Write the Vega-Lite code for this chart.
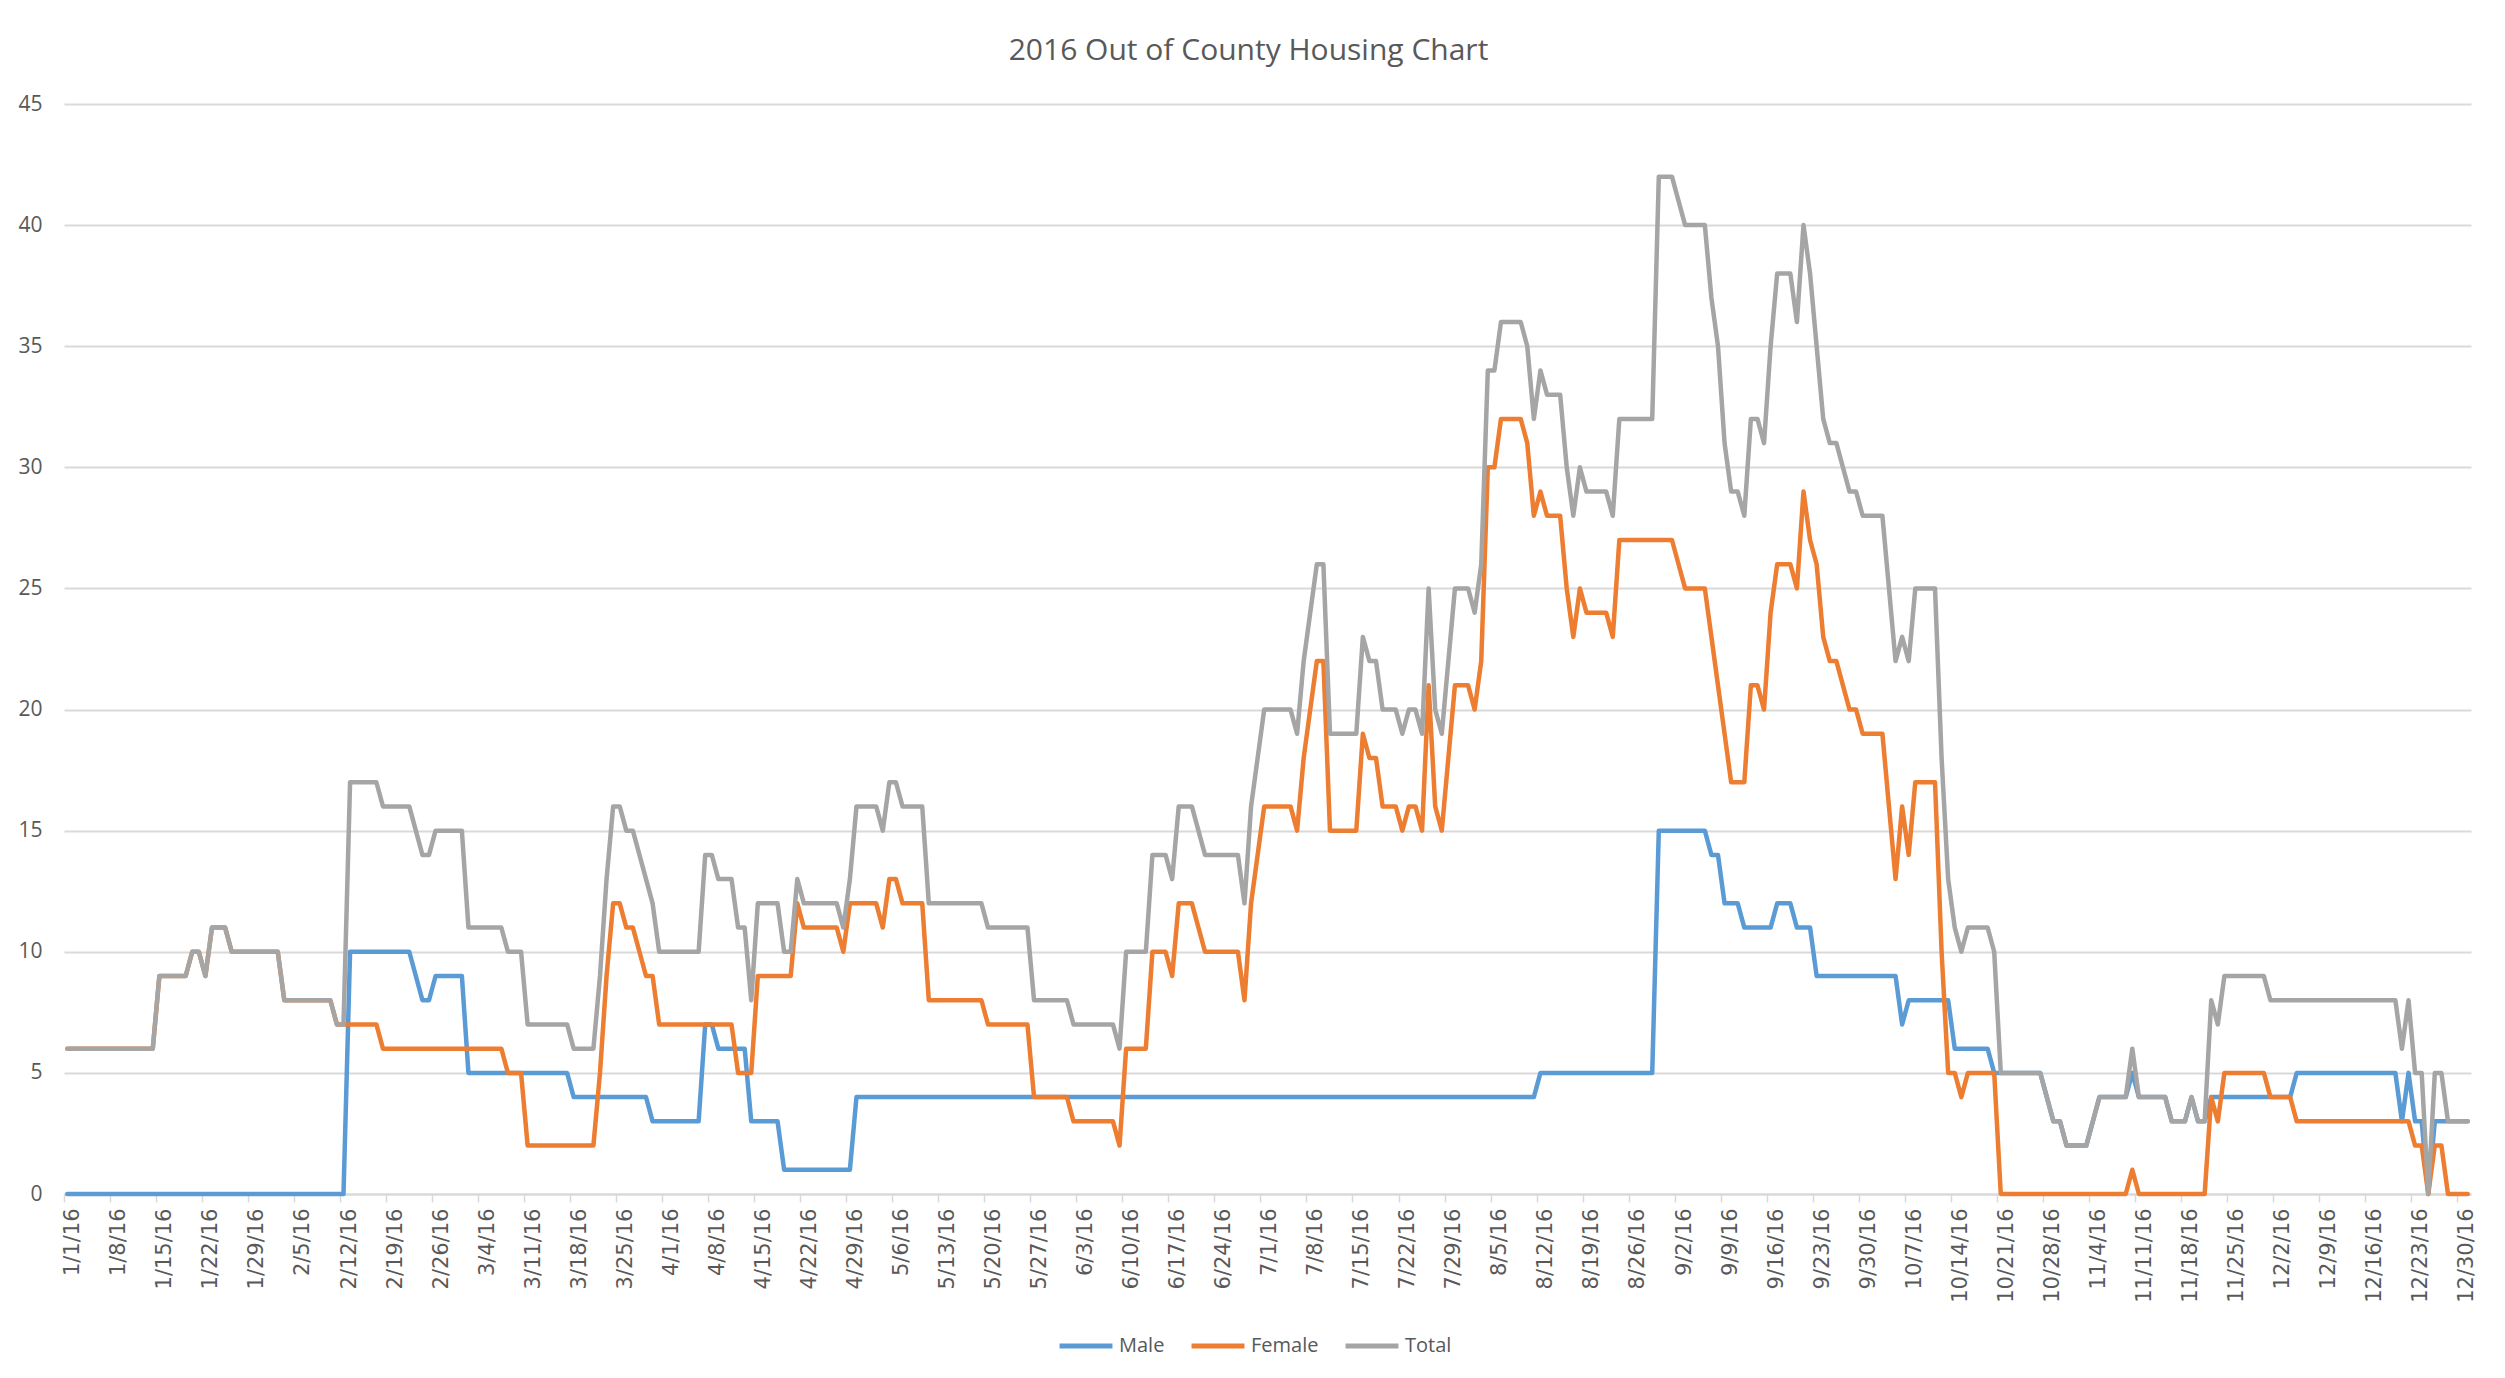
{
"$schema": "https://vega.github.io/schema/vega-lite/v6.json",
"autosize": {"type": "none"},
"padding": {"left": 64, "top": 104, "right": 34, "bottom": 184},
"width": 2407,
"height": 1090,
"background": "white",
"title": {"text": "2016 Out of County Housing Chart", "font": "Open Sans", "fontSize": 30, "fontWeight": "normal", "color": "#595959", "anchor": "middle", "offset": 27, "dx": -19},
"data": {"values": [
{"day":0,"Male":0,"Female":6,"Total":6},{"day":1,"Male":0,"Female":6,"Total":6},{"day":2,"Male":0,"Female":6,"Total":6},{"day":3,"Male":0,"Female":6,"Total":6},{"day":4,"Male":0,"Female":6,"Total":6},{"day":5,"Male":0,"Female":6,"Total":6},{"day":6,"Male":0,"Female":6,"Total":6},{"day":7,"Male":0,"Female":6,"Total":6},{"day":8,"Male":0,"Female":6,"Total":6},{"day":9,"Male":0,"Female":6,"Total":6},{"day":10,"Male":0,"Female":6,"Total":6},{"day":11,"Male":0,"Female":6,"Total":6},{"day":12,"Male":0,"Female":6,"Total":6},{"day":13,"Male":0,"Female":6,"Total":6},
{"day":14,"Male":0,"Female":9,"Total":9},{"day":15,"Male":0,"Female":9,"Total":9},{"day":16,"Male":0,"Female":9,"Total":9},{"day":17,"Male":0,"Female":9,"Total":9},{"day":18,"Male":0,"Female":9,"Total":9},
{"day":19,"Male":0,"Female":10,"Total":10},{"day":20,"Male":0,"Female":10,"Total":10},{"day":21,"Male":0,"Female":9,"Total":9},
{"day":22,"Male":0,"Female":11,"Total":11},{"day":23,"Male":0,"Female":11,"Total":11},{"day":24,"Male":0,"Female":11,"Total":11},
{"day":25,"Male":0,"Female":10,"Total":10},{"day":26,"Male":0,"Female":10,"Total":10},{"day":27,"Male":0,"Female":10,"Total":10},{"day":28,"Male":0,"Female":10,"Total":10},{"day":29,"Male":0,"Female":10,"Total":10},{"day":30,"Male":0,"Female":10,"Total":10},{"day":31,"Male":0,"Female":10,"Total":10},{"day":32,"Male":0,"Female":10,"Total":10},
{"day":33,"Male":0,"Female":8,"Total":8},{"day":34,"Male":0,"Female":8,"Total":8},{"day":35,"Male":0,"Female":8,"Total":8},{"day":36,"Male":0,"Female":8,"Total":8},{"day":37,"Male":0,"Female":8,"Total":8},{"day":38,"Male":0,"Female":8,"Total":8},{"day":39,"Male":0,"Female":8,"Total":8},{"day":40,"Male":0,"Female":8,"Total":8},
{"day":41,"Male":0,"Female":7,"Total":7},{"day":42,"Male":0,"Female":7,"Total":7},
{"day":43,"Male":10,"Female":7,"Total":17},{"day":44,"Male":10,"Female":7,"Total":17},{"day":45,"Male":10,"Female":7,"Total":17},{"day":46,"Male":10,"Female":7,"Total":17},{"day":47,"Male":10,"Female":7,"Total":17},
{"day":48,"Male":10,"Female":6,"Total":16},{"day":49,"Male":10,"Female":6,"Total":16},{"day":50,"Male":10,"Female":6,"Total":16},{"day":51,"Male":10,"Female":6,"Total":16},{"day":52,"Male":10,"Female":6,"Total":16},
{"day":53,"Male":9,"Female":6,"Total":15},{"day":54,"Male":8,"Female":6,"Total":14},{"day":55,"Male":8,"Female":6,"Total":14},
{"day":56,"Male":9,"Female":6,"Total":15},{"day":57,"Male":9,"Female":6,"Total":15},{"day":58,"Male":9,"Female":6,"Total":15},{"day":59,"Male":9,"Female":6,"Total":15},{"day":60,"Male":9,"Female":6,"Total":15},
{"day":61,"Male":5,"Female":6,"Total":11},{"day":62,"Male":5,"Female":6,"Total":11},{"day":63,"Male":5,"Female":6,"Total":11},{"day":64,"Male":5,"Female":6,"Total":11},{"day":65,"Male":5,"Female":6,"Total":11},{"day":66,"Male":5,"Female":6,"Total":11},
{"day":67,"Male":5,"Female":5,"Total":10},{"day":68,"Male":5,"Female":5,"Total":10},{"day":69,"Male":5,"Female":5,"Total":10},
{"day":70,"Male":5,"Female":2,"Total":7},{"day":71,"Male":5,"Female":2,"Total":7},{"day":72,"Male":5,"Female":2,"Total":7},{"day":73,"Male":5,"Female":2,"Total":7},{"day":74,"Male":5,"Female":2,"Total":7},{"day":75,"Male":5,"Female":2,"Total":7},{"day":76,"Male":5,"Female":2,"Total":7},
{"day":77,"Male":4,"Female":2,"Total":6},{"day":78,"Male":4,"Female":2,"Total":6},{"day":79,"Male":4,"Female":2,"Total":6},{"day":80,"Male":4,"Female":2,"Total":6},
{"day":81,"Male":4,"Female":5,"Total":9},{"day":82,"Male":4,"Female":9,"Total":13},{"day":83,"Male":4,"Female":12,"Total":16},{"day":84,"Male":4,"Female":12,"Total":16},
{"day":85,"Male":4,"Female":11,"Total":15},{"day":86,"Male":4,"Female":11,"Total":15},{"day":87,"Male":4,"Female":10,"Total":14},{"day":88,"Male":4,"Female":9,"Total":13},{"day":89,"Male":3,"Female":9,"Total":12},
{"day":90,"Male":3,"Female":7,"Total":10},{"day":91,"Male":3,"Female":7,"Total":10},{"day":92,"Male":3,"Female":7,"Total":10},{"day":93,"Male":3,"Female":7,"Total":10},{"day":94,"Male":3,"Female":7,"Total":10},{"day":95,"Male":3,"Female":7,"Total":10},{"day":96,"Male":3,"Female":7,"Total":10},
{"day":97,"Male":7,"Female":7,"Total":14},{"day":98,"Male":7,"Female":7,"Total":14},
{"day":99,"Male":6,"Female":7,"Total":13},{"day":100,"Male":6,"Female":7,"Total":13},{"day":101,"Male":6,"Female":7,"Total":13},
{"day":102,"Male":6,"Female":5,"Total":11},{"day":103,"Male":6,"Female":5,"Total":11},{"day":104,"Male":3,"Female":5,"Total":8},
{"day":105,"Male":3,"Female":9,"Total":12},{"day":106,"Male":3,"Female":9,"Total":12},{"day":107,"Male":3,"Female":9,"Total":12},{"day":108,"Male":3,"Female":9,"Total":12},
{"day":109,"Male":1,"Female":9,"Total":10},{"day":110,"Male":1,"Female":9,"Total":10},{"day":111,"Male":1,"Female":12,"Total":13},
{"day":112,"Male":1,"Female":11,"Total":12},{"day":113,"Male":1,"Female":11,"Total":12},{"day":114,"Male":1,"Female":11,"Total":12},{"day":115,"Male":1,"Female":11,"Total":12},{"day":116,"Male":1,"Female":11,"Total":12},{"day":117,"Male":1,"Female":11,"Total":12},
{"day":118,"Male":1,"Female":10,"Total":11},{"day":119,"Male":1,"Female":12,"Total":13},
{"day":120,"Male":4,"Female":12,"Total":16},{"day":121,"Male":4,"Female":12,"Total":16},{"day":122,"Male":4,"Female":12,"Total":16},{"day":123,"Male":4,"Female":12,"Total":16},
{"day":124,"Male":4,"Female":11,"Total":15},{"day":125,"Male":4,"Female":13,"Total":17},{"day":126,"Male":4,"Female":13,"Total":17},
{"day":127,"Male":4,"Female":12,"Total":16},{"day":128,"Male":4,"Female":12,"Total":16},{"day":129,"Male":4,"Female":12,"Total":16},{"day":130,"Male":4,"Female":12,"Total":16},
{"day":131,"Male":4,"Female":8,"Total":12},{"day":132,"Male":4,"Female":8,"Total":12},{"day":133,"Male":4,"Female":8,"Total":12},{"day":134,"Male":4,"Female":8,"Total":12},{"day":135,"Male":4,"Female":8,"Total":12},{"day":136,"Male":4,"Female":8,"Total":12},{"day":137,"Male":4,"Female":8,"Total":12},{"day":138,"Male":4,"Female":8,"Total":12},{"day":139,"Male":4,"Female":8,"Total":12},
{"day":140,"Male":4,"Female":7,"Total":11},{"day":141,"Male":4,"Female":7,"Total":11},{"day":142,"Male":4,"Female":7,"Total":11},{"day":143,"Male":4,"Female":7,"Total":11},{"day":144,"Male":4,"Female":7,"Total":11},{"day":145,"Male":4,"Female":7,"Total":11},{"day":146,"Male":4,"Female":7,"Total":11},
{"day":147,"Male":4,"Female":4,"Total":8},{"day":148,"Male":4,"Female":4,"Total":8},{"day":149,"Male":4,"Female":4,"Total":8},{"day":150,"Male":4,"Female":4,"Total":8},{"day":151,"Male":4,"Female":4,"Total":8},{"day":152,"Male":4,"Female":4,"Total":8},
{"day":153,"Male":4,"Female":3,"Total":7},{"day":154,"Male":4,"Female":3,"Total":7},{"day":155,"Male":4,"Female":3,"Total":7},{"day":156,"Male":4,"Female":3,"Total":7},{"day":157,"Male":4,"Female":3,"Total":7},{"day":158,"Male":4,"Female":3,"Total":7},{"day":159,"Male":4,"Female":3,"Total":7},
{"day":160,"Male":4,"Female":2,"Total":6},
{"day":161,"Male":4,"Female":6,"Total":10},{"day":162,"Male":4,"Female":6,"Total":10},{"day":163,"Male":4,"Female":6,"Total":10},{"day":164,"Male":4,"Female":6,"Total":10},
{"day":165,"Male":4,"Female":10,"Total":14},{"day":166,"Male":4,"Female":10,"Total":14},{"day":167,"Male":4,"Female":10,"Total":14},{"day":168,"Male":4,"Female":9,"Total":13},
{"day":169,"Male":4,"Female":12,"Total":16},{"day":170,"Male":4,"Female":12,"Total":16},{"day":171,"Male":4,"Female":12,"Total":16},{"day":172,"Male":4,"Female":11,"Total":15},
{"day":173,"Male":4,"Female":10,"Total":14},{"day":174,"Male":4,"Female":10,"Total":14},{"day":175,"Male":4,"Female":10,"Total":14},{"day":176,"Male":4,"Female":10,"Total":14},{"day":177,"Male":4,"Female":10,"Total":14},{"day":178,"Male":4,"Female":10,"Total":14},
{"day":179,"Male":4,"Female":8,"Total":12},{"day":180,"Male":4,"Female":12,"Total":16},{"day":181,"Male":4,"Female":14,"Total":18},
{"day":182,"Male":4,"Female":16,"Total":20},{"day":183,"Male":4,"Female":16,"Total":20},{"day":184,"Male":4,"Female":16,"Total":20},{"day":185,"Male":4,"Female":16,"Total":20},{"day":186,"Male":4,"Female":16,"Total":20},
{"day":187,"Male":4,"Female":15,"Total":19},{"day":188,"Male":4,"Female":18,"Total":22},{"day":189,"Male":4,"Female":20,"Total":24},{"day":190,"Male":4,"Female":22,"Total":26},{"day":191,"Male":4,"Female":22,"Total":26},
{"day":192,"Male":4,"Female":15,"Total":19},{"day":193,"Male":4,"Female":15,"Total":19},{"day":194,"Male":4,"Female":15,"Total":19},{"day":195,"Male":4,"Female":15,"Total":19},{"day":196,"Male":4,"Female":15,"Total":19},
{"day":197,"Male":4,"Female":19,"Total":23},{"day":198,"Male":4,"Female":18,"Total":22},{"day":199,"Male":4,"Female":18,"Total":22},
{"day":200,"Male":4,"Female":16,"Total":20},{"day":201,"Male":4,"Female":16,"Total":20},{"day":202,"Male":4,"Female":16,"Total":20},{"day":203,"Male":4,"Female":15,"Total":19},
{"day":204,"Male":4,"Female":16,"Total":20},{"day":205,"Male":4,"Female":16,"Total":20},{"day":206,"Male":4,"Female":15,"Total":19},{"day":207,"Male":4,"Female":21,"Total":25},
{"day":208,"Male":4,"Female":16,"Total":20},{"day":209,"Male":4,"Female":15,"Total":19},{"day":210,"Male":4,"Female":18,"Total":22},
{"day":211,"Male":4,"Female":21,"Total":25},{"day":212,"Male":4,"Female":21,"Total":25},{"day":213,"Male":4,"Female":21,"Total":25},{"day":214,"Male":4,"Female":20,"Total":24},{"day":215,"Male":4,"Female":22,"Total":26},
{"day":216,"Male":4,"Female":30,"Total":34},{"day":217,"Male":4,"Female":30,"Total":34},
{"day":218,"Male":4,"Female":32,"Total":36},{"day":219,"Male":4,"Female":32,"Total":36},{"day":220,"Male":4,"Female":32,"Total":36},{"day":221,"Male":4,"Female":32,"Total":36},
{"day":222,"Male":4,"Female":31,"Total":35},{"day":223,"Male":4,"Female":28,"Total":32},{"day":224,"Male":5,"Female":29,"Total":34},
{"day":225,"Male":5,"Female":28,"Total":33},{"day":226,"Male":5,"Female":28,"Total":33},{"day":227,"Male":5,"Female":28,"Total":33},
{"day":228,"Male":5,"Female":25,"Total":30},{"day":229,"Male":5,"Female":23,"Total":28},{"day":230,"Male":5,"Female":25,"Total":30},
{"day":231,"Male":5,"Female":24,"Total":29},{"day":232,"Male":5,"Female":24,"Total":29},{"day":233,"Male":5,"Female":24,"Total":29},{"day":234,"Male":5,"Female":24,"Total":29},{"day":235,"Male":5,"Female":23,"Total":28},
{"day":236,"Male":5,"Female":27,"Total":32},{"day":237,"Male":5,"Female":27,"Total":32},{"day":238,"Male":5,"Female":27,"Total":32},{"day":239,"Male":5,"Female":27,"Total":32},{"day":240,"Male":5,"Female":27,"Total":32},{"day":241,"Male":5,"Female":27,"Total":32},
{"day":242,"Male":15,"Female":27,"Total":42},{"day":243,"Male":15,"Female":27,"Total":42},{"day":244,"Male":15,"Female":27,"Total":42},{"day":245,"Male":15,"Female":26,"Total":41},
{"day":246,"Male":15,"Female":25,"Total":40},{"day":247,"Male":15,"Female":25,"Total":40},{"day":248,"Male":15,"Female":25,"Total":40},{"day":249,"Male":15,"Female":25,"Total":40},
{"day":250,"Male":14,"Female":23,"Total":37},{"day":251,"Male":14,"Female":21,"Total":35},{"day":252,"Male":12,"Female":19,"Total":31},{"day":253,"Male":12,"Female":17,"Total":29},{"day":254,"Male":12,"Female":17,"Total":29},
{"day":255,"Male":11,"Female":17,"Total":28},{"day":256,"Male":11,"Female":21,"Total":32},{"day":257,"Male":11,"Female":21,"Total":32},{"day":258,"Male":11,"Female":20,"Total":31},{"day":259,"Male":11,"Female":24,"Total":35},
{"day":260,"Male":12,"Female":26,"Total":38},{"day":261,"Male":12,"Female":26,"Total":38},{"day":262,"Male":12,"Female":26,"Total":38},{"day":263,"Male":11,"Female":25,"Total":36},{"day":264,"Male":11,"Female":29,"Total":40},{"day":265,"Male":11,"Female":27,"Total":38},
{"day":266,"Male":9,"Female":26,"Total":35},{"day":267,"Male":9,"Female":23,"Total":32},{"day":268,"Male":9,"Female":22,"Total":31},{"day":269,"Male":9,"Female":22,"Total":31},{"day":270,"Male":9,"Female":21,"Total":30},
{"day":271,"Male":9,"Female":20,"Total":29},{"day":272,"Male":9,"Female":20,"Total":29},
{"day":273,"Male":9,"Female":19,"Total":28},{"day":274,"Male":9,"Female":19,"Total":28},{"day":275,"Male":9,"Female":19,"Total":28},{"day":276,"Male":9,"Female":19,"Total":28},
{"day":277,"Male":9,"Female":16,"Total":25},{"day":278,"Male":9,"Female":13,"Total":22},{"day":279,"Male":7,"Female":16,"Total":23},{"day":280,"Male":8,"Female":14,"Total":22},
{"day":281,"Male":8,"Female":17,"Total":25},{"day":282,"Male":8,"Female":17,"Total":25},{"day":283,"Male":8,"Female":17,"Total":25},{"day":284,"Male":8,"Female":17,"Total":25},
{"day":285,"Male":8,"Female":10,"Total":18},{"day":286,"Male":8,"Female":5,"Total":13},{"day":287,"Male":6,"Female":5,"Total":11},{"day":288,"Male":6,"Female":4,"Total":10},
{"day":289,"Male":6,"Female":5,"Total":11},{"day":290,"Male":6,"Female":5,"Total":11},{"day":291,"Male":6,"Female":5,"Total":11},{"day":292,"Male":6,"Female":5,"Total":11},{"day":293,"Male":5,"Female":5,"Total":10},
{"day":294,"Male":5,"Female":0,"Total":5},{"day":295,"Male":5,"Female":0,"Total":5},{"day":296,"Male":5,"Female":0,"Total":5},{"day":297,"Male":5,"Female":0,"Total":5},{"day":298,"Male":5,"Female":0,"Total":5},{"day":299,"Male":5,"Female":0,"Total":5},{"day":300,"Male":5,"Female":0,"Total":5},
{"day":301,"Male":4,"Female":0,"Total":4},{"day":302,"Male":3,"Female":0,"Total":3},{"day":303,"Male":3,"Female":0,"Total":3},
{"day":304,"Male":2,"Female":0,"Total":2},{"day":305,"Male":2,"Female":0,"Total":2},{"day":306,"Male":2,"Female":0,"Total":2},{"day":307,"Male":2,"Female":0,"Total":2},
{"day":308,"Male":3,"Female":0,"Total":3},{"day":309,"Male":4,"Female":0,"Total":4},{"day":310,"Male":4,"Female":0,"Total":4},{"day":311,"Male":4,"Female":0,"Total":4},{"day":312,"Male":4,"Female":0,"Total":4},{"day":313,"Male":4,"Female":0,"Total":4},
{"day":314,"Male":5,"Female":1,"Total":6},
{"day":315,"Male":4,"Female":0,"Total":4},{"day":316,"Male":4,"Female":0,"Total":4},{"day":317,"Male":4,"Female":0,"Total":4},{"day":318,"Male":4,"Female":0,"Total":4},{"day":319,"Male":4,"Female":0,"Total":4},
{"day":320,"Male":3,"Female":0,"Total":3},{"day":321,"Male":3,"Female":0,"Total":3},{"day":322,"Male":3,"Female":0,"Total":3},{"day":323,"Male":4,"Female":0,"Total":4},{"day":324,"Male":3,"Female":0,"Total":3},{"day":325,"Male":3,"Female":0,"Total":3},
{"day":326,"Male":4,"Female":4,"Total":8},{"day":327,"Male":4,"Female":3,"Total":7},
{"day":328,"Male":4,"Female":5,"Total":9},{"day":329,"Male":4,"Female":5,"Total":9},{"day":330,"Male":4,"Female":5,"Total":9},{"day":331,"Male":4,"Female":5,"Total":9},{"day":332,"Male":4,"Female":5,"Total":9},{"day":333,"Male":4,"Female":5,"Total":9},{"day":334,"Male":4,"Female":5,"Total":9},
{"day":335,"Male":4,"Female":4,"Total":8},{"day":336,"Male":4,"Female":4,"Total":8},{"day":337,"Male":4,"Female":4,"Total":8},{"day":338,"Male":4,"Female":4,"Total":8},
{"day":339,"Male":5,"Female":3,"Total":8},{"day":340,"Male":5,"Female":3,"Total":8},{"day":341,"Male":5,"Female":3,"Total":8},{"day":342,"Male":5,"Female":3,"Total":8},{"day":343,"Male":5,"Female":3,"Total":8},{"day":344,"Male":5,"Female":3,"Total":8},{"day":345,"Male":5,"Female":3,"Total":8},{"day":346,"Male":5,"Female":3,"Total":8},{"day":347,"Male":5,"Female":3,"Total":8},{"day":348,"Male":5,"Female":3,"Total":8},{"day":349,"Male":5,"Female":3,"Total":8},{"day":350,"Male":5,"Female":3,"Total":8},{"day":351,"Male":5,"Female":3,"Total":8},{"day":352,"Male":5,"Female":3,"Total":8},{"day":353,"Male":5,"Female":3,"Total":8},{"day":354,"Male":5,"Female":3,"Total":8},
{"day":355,"Male":3,"Female":3,"Total":6},{"day":356,"Male":5,"Female":3,"Total":8},{"day":357,"Male":3,"Female":2,"Total":5},{"day":358,"Male":3,"Female":2,"Total":5},
{"day":359,"Male":0,"Female":0,"Total":0},{"day":360,"Male":3,"Female":2,"Total":5},{"day":361,"Male":3,"Female":2,"Total":5},
{"day":362,"Male":3,"Female":0,"Total":3},{"day":363,"Male":3,"Female":0,"Total":3},{"day":364,"Male":3,"Female":0,"Total":3},{"day":365,"Male":3,"Female":0,"Total":3}
]},
"encoding": {
  "x": {"field": "day", "type": "ordinal", "sort": null,
    "scale": {"type": "band", "paddingInner": 0, "paddingOuter": 0},
    "axis": {"title": null, "values": [0,7,14,21,28,35,42,49,56,63,70,77,84,91,98,105,112,119,126,133,140,147,154,161,168,175,182,189,196,203,210,217,224,231,238,245,252,259,266,273,280,287,294,301,308,315,322,329,336,343,350,357,364],
      "labelExpr": "timeFormat(datetime(2016, 0, datum.value + 1), '%-m/%-d/%y')",
      "bandPosition": 0, "labelAngle": -90, "labelAlign": "right", "labelBaseline": "middle",
      "labelFont": "DejaVu Sans", "labelFontSize": 21, "labelColor": "#595959", "labelPadding": 6, "labelOffset": 6,
      "tickSize": 8, "tickColor": "#D9D9D9", "tickWidth": 1.5,
      "domainColor": "#D9D9D9", "domainWidth": 2, "grid": false, "labelOverlap": false}
  }
},
"layer": [
  {"mark": {"type": "line", "strokeWidth": 4.5, "strokeJoin": "round", "strokeCap": "round"},
   "encoding": {
     "y": {"field": "Male", "type": "quantitative", "scale": {"domain": [0, 45], "nice": false},
       "axis": {"title": null, "values": [0,5,10,15,20,25,30,35,40,45], "domain": false, "ticks": false, "grid": true, "gridColor": "#D9D9D9", "gridWidth": 2, "labelFont": "Open Sans", "labelFontSize": 21, "labelColor": "#595959", "labelPadding": 22}},
     "color": {"datum": "Male", "type": "nominal",
       "scale": {"domain": ["Male", "Female", "Total"], "range": ["#5B9BD5", "#ED7D31", "#A5A5A5"]},
       "legend": {"title": null, "orient": "none", "direction": "horizontal", "legendX": 993, "legendY": 1213,
         "symbolType": "stroke", "symbolSize": 2800, "symbolStrokeWidth": 5, "labelFont": "Open Sans", "labelFontSize": 20, "labelColor": "#595959", "columnPadding": 16, "labelOffset": 4}}
   }},
  {"mark": {"type": "line", "strokeWidth": 4.5, "strokeJoin": "round", "strokeCap": "round"},
   "encoding": {
     "y": {"field": "Female", "type": "quantitative", "axis": {"title": null, "values": [0,5,10,15,20,25,30,35,40,45], "domain": false, "ticks": false, "grid": true, "gridColor": "#D9D9D9", "gridWidth": 2, "labelFont": "Open Sans", "labelFontSize": 21, "labelColor": "#595959", "labelPadding": 22}},
     "color": {"datum": "Female", "type": "nominal"}
   }},
  {"mark": {"type": "line", "strokeWidth": 4.5, "strokeJoin": "round", "strokeCap": "round"},
   "encoding": {
     "y": {"field": "Total", "type": "quantitative", "axis": {"title": null, "values": [0,5,10,15,20,25,30,35,40,45], "domain": false, "ticks": false, "grid": true, "gridColor": "#D9D9D9", "gridWidth": 2, "labelFont": "Open Sans", "labelFontSize": 21, "labelColor": "#595959", "labelPadding": 22}},
     "color": {"datum": "Total", "type": "nominal"}
   }}
],
"config": {"view": {"stroke": null}}
}
